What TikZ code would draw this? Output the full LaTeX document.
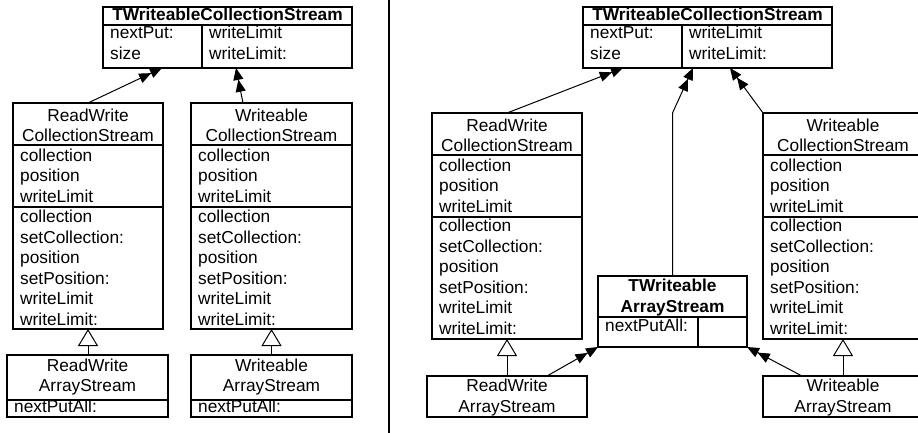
\documentclass[tikz,border=0pt]{standalone}
\usepackage{fontspec}
\setmainfont{Liberation Sans}
\usetikzlibrary{arrows.meta,calc}
\begin{document}
\begin{tikzpicture}[x=1pt,y=-1pt,
  box/.style={draw,line width=1.1pt,inner sep=0,outer sep=0,anchor=north west},
  txt/.style={inner sep=0,anchor=base west,align=left,font=\fontsize{17.3}{20.5}\selectfont},
  ctr/.style={inner sep=0,anchor=base,align=center,font=\fontsize{17.3}{20.5}\selectfont},
  ttl/.style={inner sep=0,anchor=base,align=center,font=\fontsize{17.3}{20.5}\selectfont\bfseries},
  sep/.style={line width=1.1pt},
  assoc/.style={line width=1pt,-{Triangle[length=12pt,width=10pt,sep=0pt]Triangle[length=12pt,width=10pt]}},
  gen/.style={line width=1pt,-{Triangle[open,length=17pt,width=20pt]}}]
\useasboundingbox (0,0) rectangle (918,433);
% separator
\draw[sep] (389,0) -- (389,433);

% ================= LEFT PANEL =================
% (multi-line nodes: anchor base = baseline of their last line)
\node[box,minimum width=249pt,minimum height=61pt] (twcsL) at (103,7) {};
\draw[sep] (103,25) -- (352,25);
\draw[sep] (202,25) -- (202,68);
\node[ttl] (twcsLt) at (227.5,21) {TWriteableCollectionStream};
\node[txt] (twcsLa) at (110,59.5) {nextPut:\\size};
\node[txt] (twcsLb) at (209,59.5) {writeLimit\\writeLimit:};

\node[box,minimum width=150pt,minimum height=226pt] (rwcsL) at (13,103) {};
\draw[sep] (13,145) -- (163,145);
\draw[sep] (13,207) -- (163,207);
\node[ctr] (rwcsLt) at (88,141.5) {ReadWrite\\CollectionStream};
\node[txt] (rwcsLa) at (20,202) {collection\\position\\writeLimit};
\node[txt] (rwcsLm) at (20,325.2) {collection\\setCollection:\\position\\setPosition:\\writeLimit\\writeLimit:};

\node[box,minimum width=161pt,minimum height=226pt] (wcsL) at (191,103) {};
\draw[sep] (191,145) -- (352,145);
\draw[sep] (191,207) -- (352,207);
\node[ctr] (wcsLt) at (271.5,141.5) {Writeable\\CollectionStream};
\node[txt] (wcsLa) at (198,202) {collection\\position\\writeLimit};
\node[txt] (wcsLm) at (198,325.2) {collection\\setCollection:\\position\\setPosition:\\writeLimit\\writeLimit:};

\node[box,minimum width=161pt,minimum height=62pt] (rwasL) at (7,355) {};
\draw[sep] (7,400) -- (168,400);
\node[ctr] (rwasLt) at (87.5,391.5) {ReadWrite\\ArrayStream};
\node[txt] (rwasLa) at (14,412) {nextPutAll:};

\node[box,minimum width=161pt,minimum height=62pt] (wasL) at (191,355) {};
\draw[sep] (191,400) -- (352,400);
\node[ctr] (wasLt) at (271.5,391.5) {Writeable\\ArrayStream};
\node[txt] (wasLa) at (198,412) {nextPutAll:};

\draw[assoc] (rwcsL.north) -- ([xshift=59pt]twcsL.south west);
\draw[assoc] ([xshift=52pt]wcsL.north west) -- ([xshift=133pt]twcsL.south west);
\draw[gen] (rwcsL.south |- rwasL.north) -- (rwcsL.south);
\draw[gen] (wcsL.south |- wasL.north) -- (wcsL.south);

% ================= RIGHT PANEL =================
\node[box,minimum width=249pt,minimum height=61pt] (twcsR) at (583,7) {};
\draw[sep] (583,25) -- (832,25);
\draw[sep] (682,25) -- (682,68);
\node[ttl] (twcsRt) at (707.5,21) {TWriteableCollectionStream};
\node[txt] (twcsRa) at (590,59.5) {nextPut:\\size};
\node[txt] (twcsRb) at (689,59.5) {writeLimit\\writeLimit:};

\node[box,minimum width=150pt,minimum height=226pt] (rwcsR) at (432,113) {};
\draw[sep] (432,155) -- (582,155);
\draw[sep] (432,217) -- (582,217);
\node[ctr] (rwcsRt) at (507,151.5) {ReadWrite\\CollectionStream};
\node[txt] (rwcsRa) at (439,212) {collection\\position\\writeLimit};
\node[txt] (rwcsRm) at (439,334) {collection\\setCollection:\\position\\setPosition:\\writeLimit\\writeLimit:};

\node[box,minimum width=160pt,minimum height=226pt] (wcsR) at (763,113) {};
\draw[sep] (763,155) -- (923,155);
\draw[sep] (763,217) -- (923,217);
\node[ctr] (wcsRt) at (843,151.5) {Writeable\\CollectionStream};
\node[txt] (wcsRa) at (770,212) {collection\\position\\writeLimit};
\node[txt] (wcsRm) at (770,334) {collection\\setCollection:\\position\\setPosition:\\writeLimit\\writeLimit:};

\node[box,minimum width=149pt,minimum height=71pt] (twas) at (598,276) {};
\draw[sep] (598,317) -- (747,317);
\draw[sep] (698,317) -- (698,347);
\node[ttl] (twast) at (672.5,312.2) {TWriteable\\ArrayStream};
\node[txt] (twasa) at (605,331.7) {nextPutAll:};

\node[box,minimum width=160pt,minimum height=41pt] (rwasR) at (427,376) {};
\node[ctr] (rwasRt) at (507,412.2) {ReadWrite\\ArrayStream};

\node[box,minimum width=160pt,minimum height=41pt] (wasR) at (763,376) {};
\node[ctr] (wasRt) at (843,412.2) {Writeable\\ArrayStream};

\draw[assoc] (rwcsR.north) -- ([xshift=40pt]twcsR.south west);
\draw[assoc] (wcsR.north west) -- ([xshift=147pt]twcsR.south west);
\draw[assoc] (twas.north) -- (twas.north |- rwcsR.north) -- ([xshift=110pt]twcsR.south west);
\draw[assoc] ([xshift=120pt]rwasR.north west) -- (twas.south west);
\draw[assoc] ([xshift=39pt]wasR.north west) -- (twas.south east);
\draw[gen] (rwcsR.south |- rwasR.north) -- (rwcsR.south);
\draw[gen] ([xshift=80pt]wcsR.south west |- wasR.north) -- ([xshift=80pt]wcsR.south west);
\end{tikzpicture}
\end{document}
